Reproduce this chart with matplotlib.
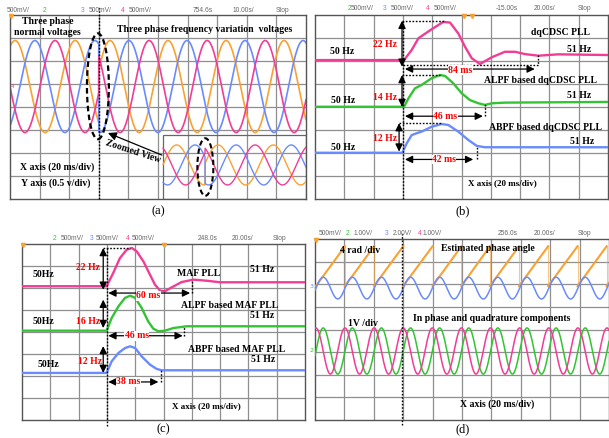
import numpy as np
import matplotlib
matplotlib.use("Agg")
import matplotlib.pyplot as plt
from matplotlib.patches import Ellipse, Rectangle

# ---------------- data (division units) ----------------
# panel (a): three-phase voltages  (order: orange, blue, pink)
a_center = 4.89
a_amp = 2.0
a_jump = 3.0
a_period_before = 2.03
a_period_after = 1.96
a_peaks_before = [0.17, 0.84, 1.52]
a_peaks_after = [3.38, 4.02, 4.70]
# zoomed-view inset of panel (a)
ins_center = 1.48
ins_amp = 0.87
ins_jump = 6.59
ins_period = 1.86
ins_peaks_before = [5.63, 6.25, 6.86]
ins_peaks_after = [7.03, 7.64, 8.28]

# panel (b): estimated frequency, dqCDSC PLL variants
b_pink_x = [0, 3.04, 3.3, 3.53, 3.98, 4.38, 4.61, 4.89, 5.12, 5.35, 5.63, 6.03, 6.48, 6.83, 7.17, 7.62, 8.3, 10]
b_pink_y = [6.04, 6.04, 6.48, 6.99, 7.38, 7.70, 7.67, 7.2, 6.62, 6.12, 5.87, 6.16, 6.4, 6.4, 6.3, 6.23, 6.29, 6.26]
b_green_x = [0, 3.04, 3.19, 3.41, 3.64, 3.98, 4.27, 4.44, 4.72, 5.01, 5.29, 5.58, 5.8, 6.03, 6.48, 10]
b_green_y = [4.01, 4.01, 4.38, 4.81, 4.96, 5.25, 5.39, 5.35, 5.03, 4.59, 4.3, 4.16, 4.09, 4.16, 4.19, 4.22]
b_blue_x = [0, 2.98, 3.13, 3.3, 3.47, 3.64, 3.98, 4.32, 4.55, 4.89, 5.23, 5.52, 5.8, 10]
b_blue_y = [2.01, 2.01, 2.42, 2.78, 2.86, 2.93, 3.14, 3.26, 3.22, 2.93, 2.57, 2.31, 2.25, 2.25]

# panel (c): estimated frequency, MAF PLL variants
c_pink_x = [0, 2.99, 3.23, 3.46, 3.7, 3.88, 4.05, 4.29, 4.52, 4.7, 4.88, 5.05, 5.29, 5.64, 6.06, 6.53, 7.0, 10]
c_pink_y = [6.08, 6.08, 6.7, 7.36, 7.74, 7.82, 7.67, 7.21, 6.61, 6.15, 5.88, 5.85, 6.03, 6.27, 6.38, 6.33, 6.26, 6.26]
c_green_x = [0, 2.99, 3.17, 3.41, 3.64, 3.82, 4.0, 4.23, 4.46, 4.64, 4.82, 5.05, 5.35, 5.82, 10]
c_green_y = [4.06, 4.06, 4.64, 5.17, 5.55, 5.65, 5.55, 5.09, 4.48, 4.15, 4.03, 4.06, 4.18, 4.26, 4.26]
c_blue_x = [0, 2.99, 3.17, 3.41, 3.64, 3.82, 4.0, 4.23, 4.52, 4.76, 4.94, 10]
c_blue_y = [2.14, 2.14, 2.67, 3.05, 3.27, 3.35, 3.27, 2.89, 2.52, 2.32, 2.26, 2.26]

# panel (d): phase angle sawtooth and in-phase / quadrature signals
d_saw_resets = [0.03, 1.02, 2.01, 3.0, 4.0, 4.98, 5.95, 6.94, 7.93, 8.93, 9.92]
d_saw_low, d_saw_high = 5.92, 7.68
d_period = 0.99
d_blue_center, d_blue_amp, d_blue_peak = 5.83, 0.48, 0.28
d_iq_center, d_iq_amp = 3.05, 1.02
d_pink_peak = 0.03
d_green_peak = 0.28

# ---------------- style ----------------
ORANGE = '#F7A233'
BLUE = '#6A8BFF'
PINK = '#F23C96'
GREEN = '#34C334'
GRID = '#8f8f8f'
HDR = '#666666'
SERIF = 'Liberation Serif'
W, H = 609, 438

fig = plt.figure(figsize=(W / 100, H / 100), dpi=100)
fig.patch.set_facecolor('white')


def add_panel(l, t, r, b):
    ax = fig.add_axes([l / W, 1 - b / H, (r - l) / W, (b - t) / H])
    ax.set_xlim(0, 10)
    ax.set_ylim(0, 8)
    ax.set_xticks([])
    ax.set_yticks([])
    for i in range(1, 10):
        ax.axvline(i, color=GRID, lw=0.9, zorder=1)
    for j in range(1, 8):
        ax.axhline(j, color=GRID, lw=0.9, zorder=1)
    for s in ax.spines.values():
        s.set_color('#555555')
        s.set_linewidth(1.0)
    return ax


def ftxt(x, y, s, **kw):
    fig.text(x / W, 1 - y / H, s, **kw)


def header(y, items):
    for x, s, c in items:
        ftxt(x, y, s, color=c, fontsize=4.8, family='Liberation Sans', ha='center', va='center')


def btxt(ax, x, y, s, color='black', size=7, **kw):
    ax.text(x, y, s, color=color, fontsize=size, family=SERIF, fontweight='bold',
            ha='center', va='center', zorder=6, **kw)


def darrow(ax, x0, y0, x1, y1):
    ax.annotate('', xy=(x1, y1), xytext=(x0, y0),
                arrowprops=dict(arrowstyle='<|-|>,head_length=0.45,head_width=0.22',
                                color='black', lw=0.9, shrinkA=0, shrinkB=0),
                zorder=5, annotation_clip=False)


def dotted(ax, xs, ys):
    ax.plot(xs, ys, color='black', ls=(0, (1.2, 1.2)), lw=1.0, zorder=5, clip_on=False)


def marker(ax, x, y):
    ax.plot([x], [y], marker='v', color=ORANGE, ms=3, zorder=7, clip_on=False)


def wave(t, peak, period):
    return np.cos(2 * np.pi * (t - peak) / period)


# ================= panel (a) =================
axa = add_panel(10, 15, 306, 199)
ta = np.linspace(0, 10, 2500)
cols = [ORANGE, BLUE, PINK]
for k in range(3):
    y = np.where(ta < a_jump,
                 a_center + a_amp * wave(ta, a_peaks_before[k], a_period_before),
                 a_center + a_amp * wave(ta, a_peaks_after[k], a_period_after))
    axa.plot(ta, y, color=cols[k], lw=1.2, zorder=2)
# inset (zoomed view)
axa.add_patch(Rectangle((5.17, 0), 4.83, 2.78, facecolor='none', edgecolor='#666666', lw=0.9, zorder=3))
ti = np.linspace(5.17, 10, 1200)
for k in range(3):
    y = np.where(ti < ins_jump,
                 ins_center + ins_amp * wave(ti, ins_peaks_before[k], ins_period),
                 ins_center + ins_amp * wave(ti, ins_peaks_after[k], ins_period))
    axa.plot(ti, y, color=cols[k], lw=1.0, zorder=4)
axa.add_patch(Ellipse((2.97, 4.9), 0.74, 4.6, facecolor='none', edgecolor='black',
                      ls=(0, (2.5, 1.5)), lw=1.6, zorder=6))
axa.add_patch(Ellipse((6.6, 1.39), 0.54, 2.5, facecolor='none', edgecolor='black',
                      ls=(0, (2.5, 1.5)), lw=1.5, zorder=6))
dotted(axa, [3.0, 3.0], [0, 8.4])
axa.annotate('', xy=(3.31, 2.87), xytext=(5.13, 1.91),
             arrowprops=dict(arrowstyle='-|>,head_length=0.5,head_width=0.25', color='black',
                             lw=0.9, shrinkA=0, shrinkB=0), zorder=6)
btxt(axa, 4.15, 2.05, 'Zoomed View', rotation=-18)
btxt(axa, 1.28, 7.71, 'Three phase')
btxt(axa, 1.27, 7.22, 'normal voltages')
btxt(axa, 6.59, 7.38, 'Three phase frequency variation  voltages')
btxt(axa, 1.59, 1.39, 'X axis (20 ms/div)')
btxt(axa, 1.55, 0.70, 'Y axis (0.5 v/div)')
axa.text(0.08, a_center, '4', color=PINK, fontsize=4, ha='center', va='center')
marker(axa, 0.05, 7.95)
header(10, [(18, '500mV/', HDR), (45, '2', GREEN), (83, '3', BLUE), (100, '500mV/', HDR),
            (123, '4', PINK), (140, '500mV/', HDR), (203, '754.6s', HDR), (243, '10.00s/', HDR),
            (283, 'Stop', HDR)])
ftxt(158, 211, '(a)', fontsize=9, family=SERIF, ha='center', va='center')

# ================= panel (b) =================
axb = add_panel(315, 15, 608, 199)
axb.plot(b_pink_x, b_pink_y, color=PINK, lw=1.7, zorder=3)
axb.plot(b_green_x, b_green_y, color=GREEN, lw=1.7, zorder=3)
axb.plot(b_blue_x, b_blue_y, color=BLUE, lw=1.7, zorder=3)
dotted(axb, [3.02, 3.02], [0, 7.75])
# pink annotations
dotted(axb, [2.97, 4.4], [7.75, 7.75])
darrow(axb, 2.97, 7.75, 2.97, 5.75)
btxt(axb, 2.39, 6.7, '22 Hz', color='red')
dotted(axb, [3.0, 7.62, 7.62], [5.83, 5.83, 6.26])
darrow(axb, 3.07, 5.65, 7.5, 5.65)
btxt(axb, 4.95, 5.6, '84 ms', color='red', bbox=dict(facecolor='white', edgecolor='none', pad=0.3))
btxt(axb, 0.93, 6.4, '50 Hz')
btxt(axb, 8.39, 7.26, 'dqCDSC PLL')
btxt(axb, 9.0, 6.48, '51 Hz')
# green annotations
dotted(axb, [2.97, 4.27], [5.39, 5.39])
darrow(axb, 2.97, 5.39, 2.97, 4.0)
btxt(axb, 2.39, 4.43, '14 Hz', color='red')
dotted(axb, [5.8, 5.8], [3.6, 4.15])
darrow(axb, 3.07, 3.6, 5.73, 3.6)
btxt(axb, 4.44, 3.6, '46 ms', color='red', bbox=dict(facecolor='white', edgecolor='none', pad=0.3))
btxt(axb, 0.96, 4.3, '50 Hz')
btxt(axb, 7.7, 5.17, 'ALPF based dqCDSC PLL')
btxt(axb, 9.0, 4.48, '51 Hz')
# blue annotations
dotted(axb, [2.87, 4.33], [3.3, 3.3])
darrow(axb, 2.87, 3.3, 2.87, 2.06)
btxt(axb, 2.39, 2.65, '12 Hz', color='red')
dotted(axb, [5.53, 5.53], [1.72, 2.25])
darrow(axb, 3.07, 1.72, 5.4, 1.72)
btxt(axb, 4.4, 1.72, '42 ms', color='red', bbox=dict(facecolor='white', edgecolor='none', pad=0.3))
btxt(axb, 0.96, 2.26, '50 Hz')
btxt(axb, 7.85, 3.13, 'ABPF based dqCDSC PLL')
btxt(axb, 9.1, 2.48, '51 Hz')
btxt(axb, 6.4, 0.7, 'X axis (20 ms/div)', size=6.5)
marker(axb, 5.1, 7.95)
marker(axb, 5.35, 7.95)
header(8, [(350, '2', GREEN), (362, '500mV/', HDR), (385, '3', BLUE), (402, '500mV/', HDR),
           (428, '4', PINK), (445, '500mV/', HDR), (507, '-15.00s', HDR), (545, '20.00s/', HDR),
           (585, 'Stop', HDR)])
ftxt(463, 211, '(b)', fontsize=9, family=SERIF, ha='center', va='center')

# ================= panel (c) =================
axc = add_panel(22, 244, 305, 420)
axc.plot(c_pink_x, c_pink_y, color=PINK, lw=1.7, zorder=3)
axc.plot(c_green_x, c_green_y, color=GREEN, lw=1.7, zorder=3)
axc.plot(c_blue_x, c_blue_y, color=BLUE, lw=1.7, zorder=3)
dotted(axc, [3.0, 3.0], [-0.25, 7.82])
dotted(axc, [2.87, 3.82], [7.82, 7.82])
darrow(axc, 2.87, 7.82, 2.87, 5.92)
btxt(axc, 2.34, 6.95, '22 Hz', color='red')
dotted(axc, [6.0, 6.0], [5.77, 6.35])
darrow(axc, 3.05, 5.77, 5.94, 5.77)
btxt(axc, 4.47, 5.65, '60 ms', color='red', bbox=dict(facecolor='white', edgecolor='none', pad=0.3))
btxt(axc, 0.75, 6.6, '50Hz')
btxt(axc, 6.23, 6.68, 'MAF PLL')
btxt(axc, 8.5, 6.83, '51 Hz')
darrow(axc, 2.87, 5.47, 2.87, 4.18)
btxt(axc, 2.34, 4.5, '16 Hz', color='red')
dotted(axc, [5.72, 5.72], [3.83, 4.27])
darrow(axc, 3.05, 3.83, 5.68, 3.83)
btxt(axc, 4.06, 3.83, '46 ms', color='red', bbox=dict(facecolor='white', edgecolor='none', pad=0.3))
btxt(axc, 0.75, 4.5, '50Hz')
btxt(axc, 7.35, 5.22, 'ALPF based MAF PLL')
btxt(axc, 8.47, 4.77, '51 Hz')
darrow(axc, 2.87, 3.36, 2.87, 2.14)
btxt(axc, 2.4, 2.68, '12 Hz', color='red')
dotted(axc, [4.9, 4.9], [1.73, 2.27])
darrow(axc, 3.05, 1.73, 4.82, 1.73)
btxt(axc, 3.76, 1.73, '38 ms', color='red', bbox=dict(facecolor='white', edgecolor='none', pad=0.3))
btxt(axc, 0.93, 2.51, '50Hz')
btxt(axc, 7.6, 3.2, 'ABPF based MAF PLL')
btxt(axc, 8.52, 2.74, '51 Hz')
btxt(axc, 6.5, 0.64, 'X axis (20 ms/div)', size=6.5)
marker(axc, 0.05, 7.95)
marker(axc, 5.0, 7.95)
header(238, [(55, '2', GREEN), (72, '500mV/', HDR), (92, '3', BLUE), (107, '500mV/', HDR),
             (128, '4', PINK), (143, '500mV/', HDR), (208, '248.0s', HDR), (243, '20.00s/', HDR),
             (280, 'Stop', HDR)])
ftxt(163, 429, '(c)', fontsize=9, family=SERIF, ha='center', va='center')

# ================= panel (d) =================
axd = add_panel(315, 239, 609, 420)
for k in range(len(d_saw_resets) - 1):
    axd.plot([d_saw_resets[k], d_saw_resets[k + 1]], [d_saw_low, d_saw_high], color=ORANGE, lw=1.5, zorder=3)
    axd.plot([d_saw_resets[k + 1], d_saw_resets[k + 1]], [d_saw_high, d_saw_low], color=ORANGE,
             lw=0.8, alpha=0.6, zorder=3)
axd.plot([d_saw_resets[-1], 10], [d_saw_low, d_saw_low + (d_saw_high - d_saw_low) * (10 - d_saw_resets[-1]) / d_period],
         color=ORANGE, lw=1.5, zorder=3)
td = np.linspace(0, 10, 3000)
axd.plot(td, d_blue_center + d_blue_amp * wave(td, d_blue_peak, d_period), color=BLUE, lw=1.1, zorder=3)
axd.plot(td, d_iq_center + d_iq_amp * wave(td, d_green_peak, d_period), color=GREEN, lw=1.1, zorder=3)
axd.plot(td, d_iq_center + d_iq_amp * wave(td, d_pink_peak, d_period), color=PINK, lw=1.1, zorder=3)
dotted(axd, [2.97, 2.97], [-0.2, 8.25])
btxt(axd, 1.53, 7.5, '4 rad /div')
btxt(axd, 5.88, 7.58, 'Estimated phase angle')
btxt(axd, 1.63, 4.25, '1V /div')
btxt(axd, 6.0, 4.47, 'In phase and quadrature components')
btxt(axd, 6.2, 0.72, 'X axis (20 ms/div)')
marker(axd, 0.05, 7.95)
ftxt(312, 287, '3', color=BLUE, fontsize=4.5, ha='center', va='center')
ftxt(312, 351, '2', color=GREEN, fontsize=4.5, ha='center', va='center')
header(233, [(330, '500mV/', HDR), (348, '2', GREEN), (363, '1.00V/', HDR), (387, '3', BLUE),
             (402, '2.00V/', HDR), (420, '4', PINK), (432, '1.00V/', HDR), (508, '256.0s', HDR),
             (545, '20.00s/', HDR), (585, 'Stop', HDR)])
ftxt(463, 429, '(d)', fontsize=9, family=SERIF, ha='center', va='center')

fig.savefig('out.png', dpi=100, facecolor='white')
